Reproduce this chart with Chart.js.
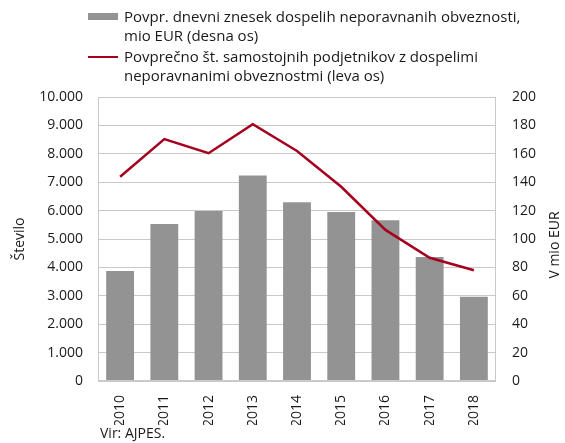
<!DOCTYPE html>
<html>
<head>
<meta charset="utf-8">
<script src="https://cdn.jsdelivr.net/npm/chart.js@4"></script>
<style>
  html, body { margin: 0; padding: 0; background: #fff; }
  #wrap { position: relative; width: 565px; height: 443px; font-family: "Open Sans", sans-serif; color: #1a1a1a; }
  #chart { position: absolute; left: 0; top: 0; }
  .leg { position: absolute; left: 124px; font-size: 15px; line-height: 19px; white-space: nowrap; }
  .sw { position: absolute; left: 88px; width: 30px; }
  #src { position: absolute; left: 100px; top: 423px; font-size: 14px; }
</style>
</head>
<body>
<div id="wrap">
  <canvas id="chart" width="565" height="443"></canvas>
  <span class="sw" style="top:13px;height:7px;background:#939393;"></span>
  <div class="leg" style="top:7px;">Povpr. dnevni znesek dospelih neporavnanih obveznosti,<br>mio EUR (desna os)</div>
  <span class="sw" style="top:56px;height:2px;background:#a5001e;"></span>
  <div class="leg" style="top:47px;">Povprečno št. samostojnih podjetnikov z dospelimi<br>neporavnanimi obveznostmi (leva os)</div>
  <div id="src">Vir: AJPES.</div>
</div>
<script>
  const years = ["2010", "2011", "2012", "2013", "2014", "2015", "2016", "2017", "2018"];
  const dailyAmount = [77.5, 110.5, 119.7, 144.8, 125.8, 119, 113.2, 87.3, 59.4];
  const entrepreneurs = [7190, 8520, 8020, 9040, 8100, 6840, 5320, 4340, 3900];

  const barColor = "#939393";
  const lineColor = "#a5001e";
  const gridColor = "#c9c9c9";

  function fmtThousands(v) {
    return String(Math.round(v)).replace(/\B(?=(\d{3})+(?!\d))/g, ".");
  }

  // light frame round the plot area + both axis titles, read bottom to top
  const frame = {
    id: "frame",
    afterDraw: function (chart) {
      const a = chart.chartArea;
      const ctx = chart.ctx;
      const midY = (a.top + a.bottom) / 2;
      ctx.save();
      ctx.strokeStyle = gridColor;
      ctx.lineWidth = 1;
      ctx.strokeRect(a.left + 0.5, a.top + 0.5, a.right - a.left - 1, a.bottom - a.top - 1);
      ctx.fillStyle = "#1a1a1a";
      ctx.font = '14px "Open Sans", sans-serif';
      ctx.textAlign = "center";
      ctx.textBaseline = "middle";
      [["Število", 20, midY], ["V mio EUR", 555, midY + 6]].forEach(function (t) {
        ctx.save();
        ctx.translate(t[1], t[2]);
        ctx.rotate(-Math.PI / 2);
        ctx.fillText(t[0], 0, 0);
        ctx.restore();
      });
      ctx.restore();
    }
  };

  Chart.defaults.font.family = '"Open Sans", sans-serif';
  Chart.defaults.color = "#1a1a1a";

  new Chart(document.getElementById("chart"), {
    data: {
      labels: years,
      datasets: [
        { type: "line", label: "Povprečno št. samostojnih podjetnikov", yAxisID: "yL", data: entrepreneurs,
          borderColor: lineColor, backgroundColor: lineColor, borderWidth: 2.5, pointRadius: 0, tension: 0, order: 0 },
        { type: "bar", label: "Povpr. dnevni znesek", yAxisID: "yR", data: dailyAmount,
          backgroundColor: barColor, borderWidth: 0, barPercentage: 0.63, categoryPercentage: 1, order: 1 }
      ]
    },
    options: {
      responsive: false,
      animation: false,
      layout: { padding: { top: 97, bottom: 18, left: 0, right: 0 } },
      plugins: { legend: { display: false }, tooltip: { enabled: false } },
      scales: {
        x: {
          grid: { display: false },
          border: { display: false },
          ticks: { minRotation: 90, maxRotation: 90, font: { size: 14 }, padding: 6 },
          afterFit: function (s) { s.height = 44; }
        },
        yL: {
          position: "left",
          min: 0, max: 10000,
          ticks: { stepSize: 1000, font: { size: 14 }, padding: 15, callback: function (v) { return fmtThousands(v); } },
          grid: { color: gridColor, drawTicks: false },
          border: { display: false },
          afterFit: function (s) { s.width = 98; }
        },
        yR: {
          position: "right",
          min: 0, max: 200,
          ticks: { stepSize: 20, font: { size: 14 }, padding: 16 },
          grid: { drawOnChartArea: false, drawTicks: false },
          border: { display: false },
          afterFit: function (s) { s.width = 69; }
        }
      }
    },
    plugins: [frame]
  });
</script>
</body>
</html>
